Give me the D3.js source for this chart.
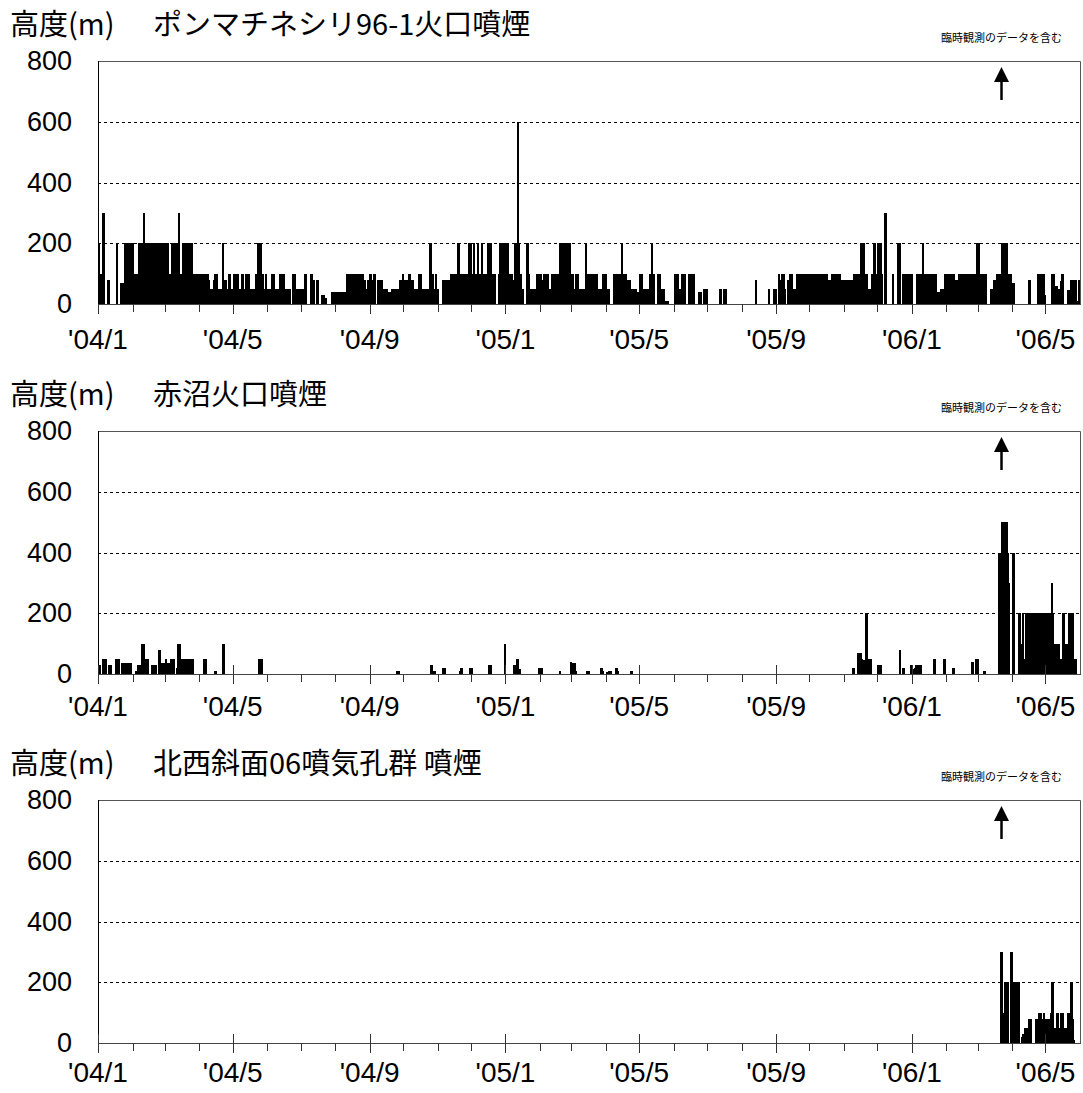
<!DOCTYPE html>
<html>
<head>
<meta charset="utf-8">
<script src="https://cdn.jsdelivr.net/npm/d3@7"></script>
<style>
body { margin: 0; background: #fff; }
text { font-family: "Noto Sans CJK JP", sans-serif; fill: #000; }
text.num { font-family: "Liberation Sans", Arial, sans-serif; }
</style>
</head>
<body>
<svg id="chart"></svg>
<script>
var width = 1083;
var height = 1093;
var margins = { left: 98, right: 3 };
var panelTops = [61, 431, 800];
var panelHeight = 243;
var xLabelOffsets = [45, 42, 39];

var unitLabel = "高度(m)";
var panelTitles = ["ポンマチネシリ96-1火口噴煙", "赤沼火口噴煙", "北西斜面06噴気孔群 噴煙"];
var noteText = "臨時観測のデータを含む";
var extraObsStart = "2006-03-21";
var xStart = "2004-01-01";
var xEnd = "2006-06-01";
var yTicks = [0, 200, 400, 600, 800];
var xTickLabels = ["'04/1", "'04/5", "'04/9", "'05/1", "'05/5", "'05/9", "'06/1", "'06/5"];

// each row: first day, then one height (m) per consecutive day
var ponmachineshiri = [
    ["2004-01-01", 200,100,100,100,300,0,0,0,80,80,0,0,0,0,0,0,200,0,0,0,70,70,70,200,100,200,200,200,200,0,200],
    ["2004-02-01", 100,100,100,100,100,200,200,200,200,300,200,200,200,200,0,200,200,200,200,200,0,200,200,200,200,200,200,200,100],
    ["2004-03-01", 200,200,200,100,100,100,200,200,200,200,200,200,300,100,100,200,200,200,200,200,200,200,200,200,100,100,100,100,100,100,100],
    ["2004-04-01", 100,100,100,0,100,100,100,100,80,50,50,50,80,100,100,100,50,50,50,50,200,80,80,80,50,50,100,100,50,50],
    ["2004-05-01", 100,100,100,50,100,50,50,100,100,50,0,100,100,100,100,50,50,50,50,50,100,100,200,200,200,100,100,50,50,100,50],
    ["2004-06-01", 50,50,50,100,100,100,0,50,50,50,50,100,100,100,100,50,50,50,50,50,0,0,100,100,100,50,50,50,50,50],
    ["2004-07-01", 0,50,50,100,100,0,0,0,100,100,80,80,0,0,80,80,0,0,30,30,30,10,20,0,0,0,0,40,40,40,40],
    ["2004-08-01", 40,40,40,40,40,40,40,40,40,40,100,100,100,100,100,100,100,100,100,100,100,100,100,100,100,80,80,50,50,80,100],
    ["2004-09-01", 100,80,80,100,100,0,0,80,80,80,80,50,50,50,50,50,40,40,40,50,50,50,50,50,50,50,80,80,80,100],
    ["2004-10-01", 50,80,50,80,100,100,80,80,80,50,50,50,50,100,100,100,50,50,50,50,50,50,50,200,200,100,100,50,50,100,50],
    ["2004-11-01", 0,0,0,0,80,80,80,80,80,80,0,100,100,100,100,100,100,200,200,100,100,100,100,100,100,100,100,200,200,200],
    ["2004-12-01", 100,100,200,100,100,200,100,100,100,200,100,100,100,100,200,200,200,200,100,0,100,100,0,0,100,200,200,200,200,200,200],
    ["2005-01-01", 200,200,100,100,100,100,80,80,200,200,600,200,100,100,50,50,0,0,200,200,100,50,50,0,50,50,50,100,100,100,100],
    ["2005-02-01", 100,80,80,100,100,100,100,50,50,50,100,100,100,100,100,100,0,200,100,200,200,200,200,100,200,200,200,100],
    ["2005-03-01", 100,100,50,100,100,100,50,50,50,50,50,50,200,100,100,100,100,100,100,100,100,100,100,50,50,50,50,50,100,100,100],
    ["2005-04-01", 50,50,50,0,0,0,0,100,100,100,100,100,100,100,200,100,100,100,80,80,80,80,50,50,50,50,50,40,40,40],
    ["2005-05-01", 100,100,100,50,50,50,50,50,50,100,100,200,100,0,0,0,100,100,100,50,50,50,10,10,10,10,0,0,0,0,0],
    ["2005-06-01", 100,100,100,100,50,50,50,100,100,100,0,0,0,100,100,100,100,100,0,0,0,0,40,40,40,0,50,50,50,50],
    ["2005-07-01", 0,0,0,0,0,0,0,0,0,0,0,50,50,0,50,50,50,0,0,0,0,0,0,0,0,0,0,0,0,0,0],
    ["2005-08-01", 0,0,0,0,0,0,0,0,0,0,0,0,80,0,0,0,0,0,0,0,0,0,0,0,50,0,0,0,50,50,50],
    ["2005-09-01", 0,0,100,80,100,50,100,50,0,0,80,80,100,100,0,50,50,50,100,100,80,100,100,80,100,100,80,100,100,50],
    ["2005-10-01", 100,50,100,100,100,100,0,100,100,100,100,100,50,100,100,100,50,80,80,100,100,80,100,100,100,100,100,0,80,80,80],
    ["2005-11-01", 80,80,80,0,80,80,80,0,100,100,100,100,100,100,200,200,200,200,100,100,100,50,50,50,100,100,200,200,100,100],
    ["2005-12-01", 200,200,200,100,0,0,300,300,0,0,0,0,0,100,0,0,0,0,200,200,0,0,100,100,100,100,100,100,100,100,100],
    ["2006-01-01", 0,0,0,0,100,100,100,100,100,200,100,100,100,100,100,100,100,100,100,100,100,100,40,40,40,50,50,50,0,100,100],
    ["2006-02-01", 100,100,100,100,100,100,100,80,80,80,100,100,100,100,100,100,100,100,100,100,100,0,100,100,100,100,100,200],
    ["2006-03-01", 200,100,80,100,80,100,100,100,0,0,0,50,50,50,80,80,80,100,100,100,0,200,200,100,200,200,100,100,100,100,70],
    ["2006-04-01", 70,70,0,0,0,0,0,0,0,0,0,0,0,0,80,80,0,0,0,0,0,0,100,100,100,30,100,100,100,30],
    ["2006-05-01", 0,0,0,0,0,100,100,100,60,60,50,50,50,75,100,100,0,0,0,45,45,45,80,80,80,80,80,10,10,80,0]
];

var akanuma = [
    ["2004-01-01", 30,30,0,0,50,50,50,0,0,30,30,30,0,0,0,50,50,50,50,0,0,35,35,35,35,0,35,35,35,35],
    ["2004-02-03", 10,10,30,30,30,30,100,100,50,50,50,50,0,0,0,30,30,30,30,0,0,80,80,35,35,35,35],
    ["2004-03-01", 50,35,35,35,0,50,50,50,0,0,20,100,100,100,50,50,50,50,50,50,50,50,50,50,50],
    ["2004-04-04", 50,50,50],
    ["2004-04-14", 10,10],
    ["2004-04-21", 100,100],
    ["2004-05-24", 50,50,50],
    ["2004-09-25", 10,10],
    ["2004-10-25", 30,30,10,10,10],
    ["2004-11-05", 20,20,20],
    ["2004-11-20", 10,20,20],
    ["2004-11-29", 20,20,20],
    ["2004-12-16", 30,30,30],
    ["2004-12-31", 100],
    ["2005-01-08", 30,30,50,50,15,15],
    ["2005-01-30", 20,20,20,20],
    ["2005-02-18", 10],
    ["2005-02-28", 40,35,35,35,10],
    ["2005-03-14", 10,10,10],
    ["2005-03-27", 20,20,10],
    ["2005-04-01", 5,5,10,10,10],
    ["2005-04-09", 20,20,10],
    ["2005-04-23", 10,10],
    ["2005-11-08", 20,20],
    ["2005-11-13", 70,70,70,50,45,45,45,200,200,50,50,50],
    ["2005-12-01", 30,30,30],
    ["2005-12-20", 80],
    ["2005-12-23", 20,20],
    ["2005-12-30", 30,30,15],
    ["2006-01-03", 20,30,30,30,30,30],
    ["2006-01-20", 50,50],
    ["2006-01-29", 50,50],
    ["2006-02-06", 20,20],
    ["2006-02-23", 40,40],
    ["2006-02-27", 50,50],
    ["2006-03-06", 10,10],
    ["2006-03-19", 400,400,400,500,500,400,500,500,400,300],
    ["2006-04-01", 400,400,0,0,0,200,200,100,100,200,50,50,200,200,50,200,50,200,200,200,200,200,50,200,200,200,200,50,200,200],
    ["2006-05-01", 200,200,50,200,200,300,200,100,100,100,100,100,50,50,50,200,200,100,100,100,200,100,200,200,200,50,50]
];

var northwest06 = [
    ["2006-03-21", 300,300,100,100,200,200,200,0,0,300,300],
    ["2006-04-01", 100,200,200,200,200,200,0,0,20,30,30,50,50,50,80,80,80,0,0,0,0,80,80,100,100,100,80,80,100,80],
    ["2006-05-01", 80,50,80,80,100,200,200,50,50,100,100,50,50,100,100,100,50,50,50,100,100,100,200,200,80,10]
];

var panelSeries = [ponmachineshiri, akanuma, northwest06];

var parseDate = d3.timeParse("%Y-%m-%d");

function expandRuns(runs) {
    var out = [];
    runs.forEach(function(r) {
        var d0 = parseDate(r[0]);
        r.slice(1).forEach(function(v, i) {
            if (v > 0) out.push({ date: d3.timeDay.offset(d0, i), value: v });
        });
    });
    return out;
}

function labelDate(s) {
    var parts = s.replace("'", "").split("/");
    return new Date(2000 + (+parts[0]), +parts[1] - 1, 1);
}

var svg = d3.select("svg")
    .attr("width", width)
    .attr("height", height);

var xscale = d3.scaleTime()
    .domain([parseDate(xStart), parseDate(xEnd)])
    .range([margins.left, width - margins.right]);

var months = d3.timeMonth.range(parseDate(xStart), parseDate(xEnd));
var labelTimes = xTickLabels.map(function(s) { return +labelDate(s); });

panelTops.forEach(function(top, p) {
    var bottom = top + panelHeight;
    var yscale = d3.scaleLinear().domain([0, 800]).range([bottom, top]);
    var g = svg.append("g");
    var x0 = xscale.range()[0], x1 = xscale.range()[1];

    // titles
    g.append("text").attr("x", 10).attr("y", top - 26)
        .style("font-size", "29px").text(unitLabel);
    g.append("text").attr("x", 153).attr("y", top - 26)
        .style("font-size", "29px").text(panelTitles[p]);

    // dashed grid
    g.selectAll(".grid").data(yTicks.filter(function(v) { return v > 0 && v < 800; }))
        .enter().append("line")
        .attr("x1", x0).attr("x2", x1)
        .attr("y1", function(v) { return Math.round(yscale(v)) + 0.5; })
        .attr("y2", function(v) { return Math.round(yscale(v)) + 0.5; })
        .attr("stroke", "#000").attr("stroke-width", 1)
        .attr("stroke-dasharray", "3,3");

    // daily bars (one px wider than the day slot, like the original)
    var data = expandRuns(panelSeries[p]);
    g.selectAll(".bar").data(data).enter().append("rect")
        .attr("x", function(d) { return Math.round(xscale(d.date)); })
        .attr("width", function(d) {
            var a = Math.round(xscale(d.date));
            var b = Math.round(xscale(d3.timeDay.offset(d.date, 1)));
            return Math.min(Math.max(1, b - a) + 1, x1 - a);
        })
        .attr("y", function(d) { return Math.round(yscale(d.value)); })
        .attr("height", function(d) { return Math.round(bottom) - Math.round(yscale(d.value)); })
        .attr("fill", "#000")
        .attr("shape-rendering", "crispEdges");

    // frame
    g.append("path")
        .attr("d", "M" + (x0 + 0.5) + "," + (top + 0.5) + "H" + (x1 + 0.5) + "V" + (bottom + 0.5))
        .attr("fill", "none").attr("stroke", "#555").attr("stroke-width", 1);
    g.append("line")
        .attr("x1", x0 + 0.5).attr("x2", x0 + 0.5).attr("y1", top).attr("y2", bottom + 1)
        .attr("stroke", "#000");
    g.append("line")
        .attr("x1", x0).attr("x2", x1 + 1).attr("y1", bottom + 0.5).attr("y2", bottom + 0.5)
        .attr("stroke", "#444");

    // month ticks
    g.selectAll(".tick").data(months).enter().append("line")
        .attr("x1", function(d) { return Math.round(xscale(d)) + 0.5; })
        .attr("x2", function(d) { return Math.round(xscale(d)) + 0.5; })
        .attr("y1", function(d) { return labelTimes.indexOf(+d) >= 0 && p > 0 ? bottom - 9 : bottom; })
        .attr("y2", function(d) { return labelTimes.indexOf(+d) >= 0 ? bottom + 10 : bottom + 8; })
        .attr("stroke", "#333");

    // y labels
    g.selectAll(".ylab").data(yTicks).enter().append("text")
        .attr("class", "num")
        .attr("x", 72).attr("y", function(v) { return yscale(v) + 9; })
        .attr("text-anchor", "end")
        .style("font-size", "27px")
        .text(function(v) { return v; });

    // x labels
    g.selectAll(".xlab").data(xTickLabels).enter().append("text")
        .attr("class", "num")
        .attr("x", function(s) { return xscale(labelDate(s)); })
        .attr("y", bottom + xLabelOffsets[p])
        .attr("text-anchor", "middle")
        .style("font-size", "28px")
        .text(function(s) { return s; });

    // special observation note and arrow
    var ax = Math.round(xscale(parseDate(extraObsStart))) + 1.5;
    g.append("text").attr("x", ax).attr("y", top - 19)
        .attr("text-anchor", "middle")
        .style("font-size", "11px").text(noteText);
    g.append("line")
        .attr("x1", ax).attr("x2", ax).attr("y1", top + 18).attr("y2", top + 39)
        .attr("stroke", "#000").attr("stroke-width", 2.5);
    g.append("path")
        .attr("d", "M" + ax + "," + (top + 6) + "L" + (ax + 7.5) + "," + (top + 21) + "L" + (ax - 7.5) + "," + (top + 21) + "Z")
        .attr("fill", "#000");
});
</script>
</body>
</html>
